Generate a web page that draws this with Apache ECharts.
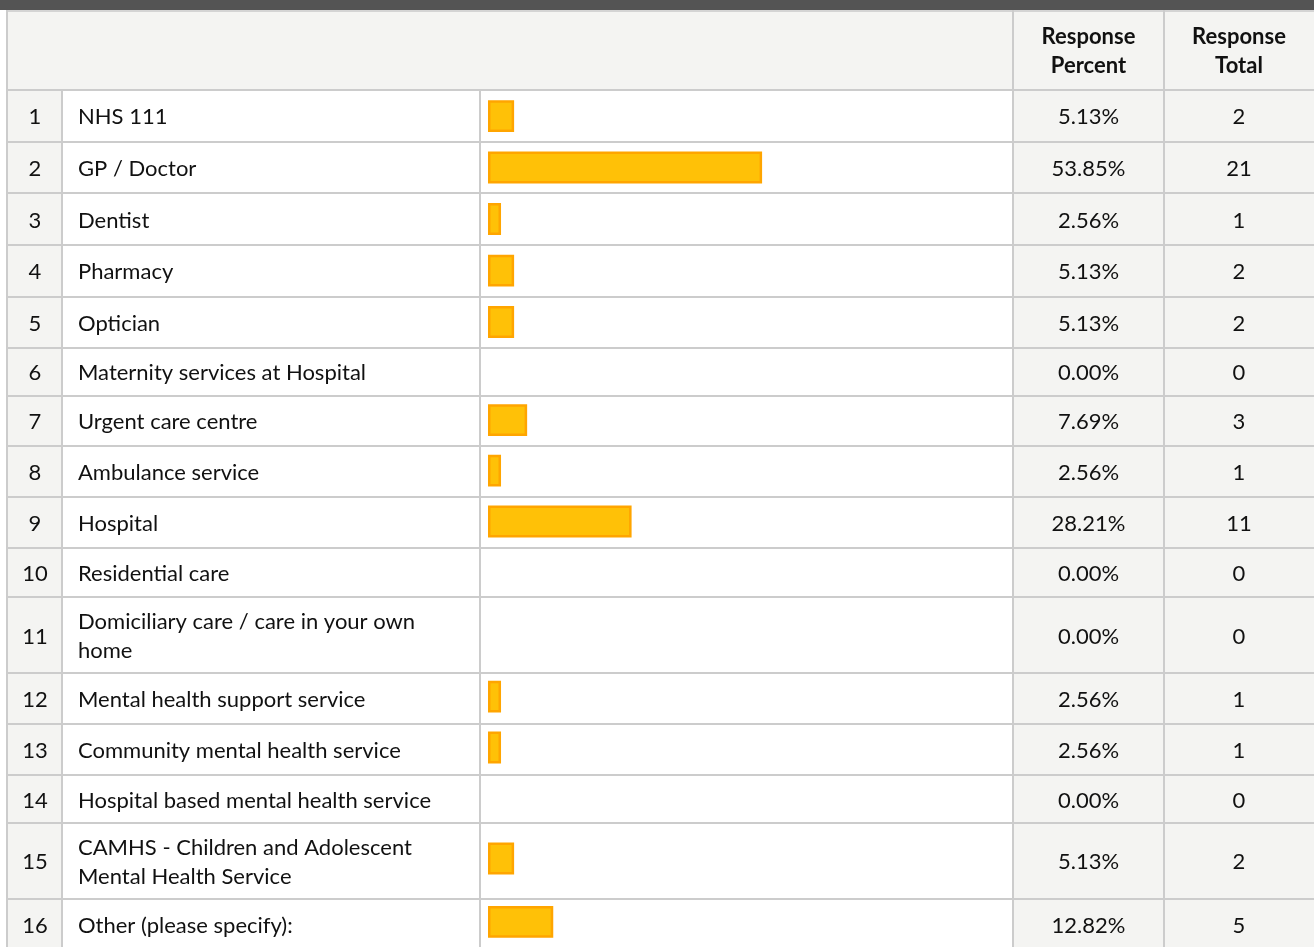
<!DOCTYPE html>
<html>
<head>
<meta charset="utf-8">
<script src="https://cdn.jsdelivr.net/npm/echarts@6/dist/echarts.min.js"></script>
<style>
html,body{margin:0;padding:0;background:#ffffff;}
#chart{width:1314px;height:947px;}
</style>
</head>
<body>
<div id="chart"></div>
<script>
// ---------- DATA ----------
const categories = [
  'NHS 111',
  'GP / Doctor',
  'Dentist',
  'Pharmacy',
  'Optician',
  'Maternity services at Hospital',
  'Urgent care centre',
  'Ambulance service',
  'Hospital',
  'Residential care',
  'Domiciliary care / care in your own home',
  'Mental health support service',
  'Community mental health service',
  'Hospital based mental health service',
  'CAMHS - Children and Adolescent Mental Health Service',
  'Other (please specify):'
];
const responsePercent = [5.13, 53.85, 2.56, 5.13, 5.13, 0.00, 7.69, 2.56, 28.21, 0.00, 0.00, 2.56, 2.56, 0.00, 5.13, 12.82];
const responseTotal = [2, 21, 1, 2, 2, 0, 3, 1, 11, 0, 0, 1, 1, 0, 2, 5];
const headerLabels = ['Response\nPercent', 'Response\nTotal'];

// ---------- LAYOUT ----------
const layout = {
  bandH: 10,
  tableTop: 90,
  rowHeights: [51.5, 51.5, 52, 51.5, 51.5, 47.5, 50.5, 51, 51, 49, 76, 50.5, 51.5, 48, 75.5, 51.5],
  colX: [6, 62, 480, 1013, 1164, 1314],
  barLeft: 488,
  barFullWidth: 509,
  barHeight: 32,
  nameWrap: 372
};
const style = {
  font: 'Lato, "Open Sans", sans-serif',
  size: 22,
  lineH: 29,
  text: '#111111',
  grid: '#cccccc',
  cell: '#f4f4f2',
  band: '#545454',
  barFill: '#FFC107',
  barStroke: '#FFA500'
};

// row boundaries (relative to table top)
const rowTops = [];
let acc = 0;
layout.rowHeights.forEach(h => { rowTops.push(acc); acc += h; });
const totalH = acc;
const rowCenters = rowTops.map((t, i) => t + layout.rowHeights[i] / 2);

const C = layout.colX;
const W = 1314;
const g = [];
const fontStr = (w) => (w || 'normal') + ' ' + style.size + 'px ' + style.font;
function txt(x, y, text, align, weight, extra) {
  const s = Object.assign({
    text: text, x: 0, y: 0, font: fontStr(weight), fill: style.text,
    align: align, verticalAlign: 'middle', textAlign: align, textVerticalAlign: 'middle',
    lineHeight: style.lineH
  }, extra || {});
  g.push({type: 'text', x: x, y: y, z: 5, style: s});
}
function rect(x, y, w, h, fill, z) {
  g.push({type: 'rect', z: z || 0, shape: {x: x, y: y, width: w, height: h}, style: {fill: fill}});
}

// top band + header
rect(0, 0, W, layout.bandH, style.band, 1);
rect(C[0], layout.bandH, W - C[0], layout.tableTop - layout.bandH, style.cell, 0);
rect(C[0], layout.bandH, W - C[0], 2, '#d4d4d4', 2);
const headerMid = (layout.bandH + 2 + layout.tableTop) / 2 + 0.5;
txt((C[3] + C[4]) / 2, headerMid, headerLabels[0], 'center', 'bold');
txt((C[4] + C[5]) / 2, headerMid, headerLabels[1], 'center', 'bold');

// row cells
categories.forEach((name, i) => {
  const top = layout.tableTop + rowTops[i];
  const h = layout.rowHeights[i];
  const mid = top + h / 2 + 1.5;
  rect(C[0], top, C[1] - C[0], h, style.cell, 0);
  rect(C[3], top, C[5] - C[3], h, style.cell, 0);
  txt((C[0] + C[1]) / 2 + 1, mid, String(i + 1), 'center');
  txt(C[1] + 16, mid, name, 'left', 'normal', {width: layout.nameWrap, overflow: 'break'});
  txt((C[3] + C[4]) / 2, mid, responsePercent[i].toFixed(2) + '%', 'center');
  txt((C[4] + C[5]) / 2, mid, String(responseTotal[i]), 'center');
});

// grid lines
const lw = 2;
for (let i = 0; i <= categories.length; i++) {
  const y = layout.tableTop + (i === 0 ? 0 : rowTops[i - 1] + layout.rowHeights[i - 1]);
  rect(C[0], Math.round(y) - 1, W - C[0], lw, style.grid, 3);
}
// vertical lines
rect(C[0], layout.bandH, lw, layout.tableTop + totalH, style.grid, 3);
rect(C[1] - 1, layout.tableTop, lw, totalH, style.grid, 3);
rect(C[2] - 1, layout.tableTop, lw, totalH, style.grid, 3);
rect(C[3] - 1, layout.bandH, lw, layout.tableTop + totalH, style.grid, 3);
rect(C[4] - 1, layout.bandH, lw, layout.tableTop + totalH, style.grid, 3);

const seriesData = responsePercent.map((v, i) => [v, rowCenters[i]]);

const chart = echarts.init(document.getElementById('chart'), null, {renderer: 'canvas'});
chart.setOption({
  animation: false,
  backgroundColor: '#ffffff',
  grid: {left: layout.barLeft, top: layout.tableTop, width: layout.barFullWidth, height: totalH, containLabel: false},
  xAxis: {type: 'value', min: 0, max: 100, show: false},
  yAxis: {type: 'value', min: 0, max: totalH, inverse: true, show: false},
  graphic: {elements: g},
  series: [{
    type: 'custom',
    z: 10,
    clip: false,
    encode: {x: 0, y: 1},
    data: seriesData,
    renderItem: function (params, api) {
      const v = api.value(0);
      if (!(v > 0)) return null;
      const yc = api.value(1);
      const p0 = api.coord([0, yc]);
      const p1 = api.coord([v, yc]);
      const hh = api.size([0, layout.barHeight])[1];
      const bw = 2.5;
      return {
        type: 'rect',
        shape: {
          x: p0[0] + bw / 2,
          y: p0[1] - hh / 2 + bw / 2 + 0.5,
          width: Math.max(p1[0] - p0[0] - bw, 1),
          height: hh - bw
        },
        style: {fill: style.barFill, stroke: style.barStroke, lineWidth: bw}
      };
    }
  }]
});
</script>
</body>
</html>
